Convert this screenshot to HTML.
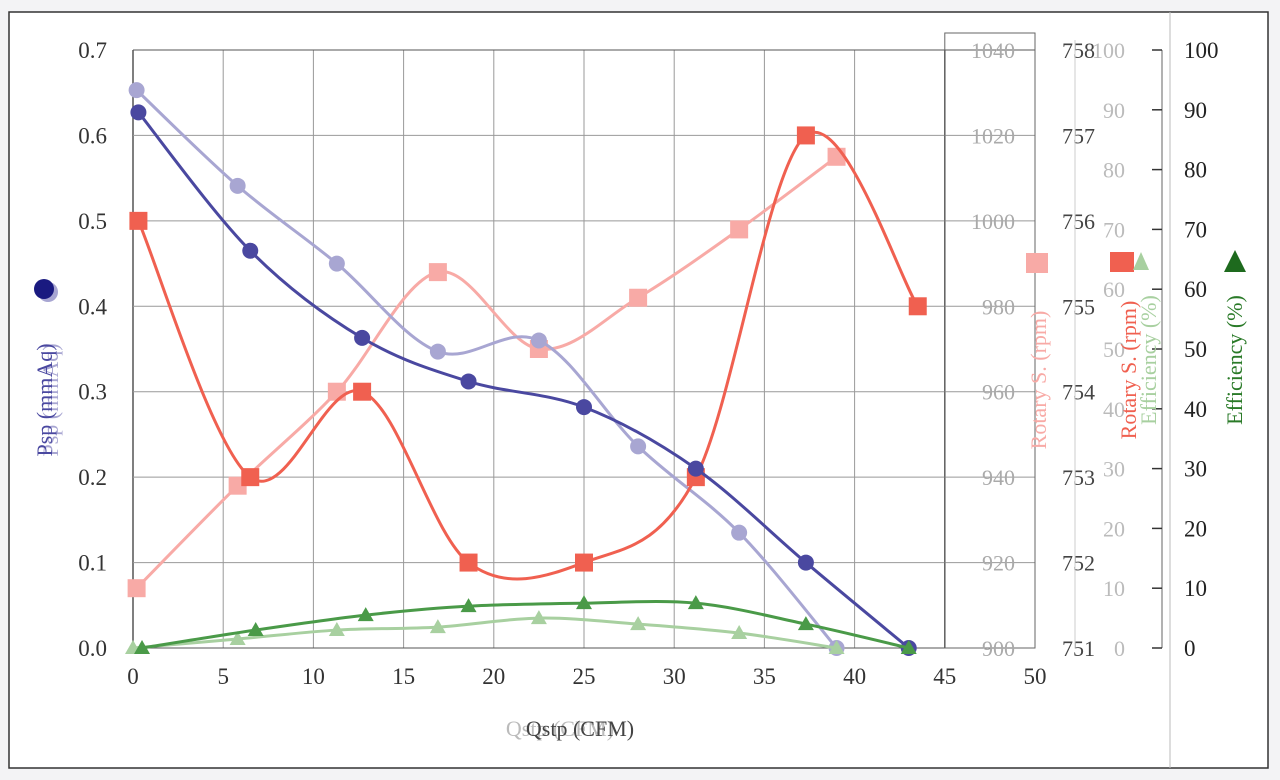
<!DOCTYPE html>
<html><head><meta charset="utf-8"><style>
html,body{margin:0;padding:0;background:#f3f3f5;}
svg{display:block;font-family:"Liberation Serif",serif;}
</style></head><body>
<svg id="c" width="1280" height="780" viewBox="0 0 1280 780">
<rect x="9" y="12" width="1259" height="756" fill="#fff" stroke="#333" stroke-width="1.5"/>
<line x1="1170" y1="12" x2="1170" y2="768" stroke="#bbb"/>
<g id="grid"></g><g id="axes"></g><g id="series"></g>
<g id="labels" font-size="22"></g>
</svg>
<script>
const xTicks=[0,5,10,15,20,25,30,35,40,45,50];
const yTicks=["0.0","0.1","0.2","0.3","0.4","0.5","0.6","0.7"];
const rpmTicks=[900,920,940,960,980,1000,1020,1040];
const rpm2Ticks=[751,752,753,754,755,756,757,758];
const effTicks=[0,10,20,30,40,50,60,70,80,90,100];
const pspX=[0.3,6.5,12.7,18.6,25,31.2,37.3,43];
const pspY=[0.627,0.465,0.363,0.312,0.282,0.21,0.1,0];
const psp2X=[0.2,5.8,11.3,16.9,22.5,28,33.6,39];
const psp2Y=[0.653,0.541,0.45,0.347,0.36,0.236,0.135,0];
const rpmX=[0.3,6.5,12.7,18.6,25,31.2,37.3,43.5];
const rpmY=[756,753,754,752,752,753,757,755];
const rpm2X=[0.2,5.8,11.3,16.9,22.5,28,33.6,39];
const rpm2Y=[914,938,960,988,970,982,998,1015];
const effX=[0.5,6.8,12.9,18.6,25,31.2,37.3,43];
const effY=[0,3,5.5,7,7.5,7.5,4,0];
const eff2X=[0,5.8,11.3,16.9,22.5,28,33.6,39];
const eff2Y=[0,1.5,3,3.5,5,4,2.5,0];

const X0=133,XS=18.04,YB=648,YT=50;
const sx=v=>X0+v*XS;
const sy=v=>YB-v/0.7*(YB-YT);
const syR=v=>YB-(v-900)/140*(YB-YT);
const syR2=v=>YB-(v-751)/7*(YB-YT);
const syE=v=>YB-v/100*(YB-YT);
const NS="http://www.w3.org/2000/svg";
function mk(parent,tag,attrs,text){const e=document.createElementNS(NS,tag);for(const k in attrs)e.setAttribute(k,attrs[k]);if(text!==undefined)e.textContent=text;document.getElementById(parent).appendChild(e);return e;}

for(const t of xTicks){if(t>45)continue;
 const g=mk('grid','line',{x1:sx(t),x2:sx(t),y1:YT,y2:YB,stroke:t===0||t===45?'#555':'#999','stroke-width':t===0||t===45?1.5:1});
 
 }
for(const t of yTicks){const y=sy(+t);
 const g=mk('grid','line',{x1:X0,x2:sx(50),y1:y,y2:y,stroke:(+t===0.7||+t===0)?'#555':'#999','stroke-width':1});
 
 }
const bx=mk('grid','rect',{x:sx(45),y:33,width:sx(50)-sx(45),height:YB-33,fill:'none',stroke:'#666'});



for(const t of xTicks){const e=mk('axes','text',{x:sx(t),y:684,'text-anchor':'middle','font-size':23,fill:'#333'},t);
 
 }
for(const t of yTicks){const e=mk('axes','text',{x:107,y:sy(+t)+8,'text-anchor':'end','font-size':23,fill:'#333'},t);
 
 }
for(const t of rpmTicks){const e=mk('axes','text',{x:1015,y:syR(t)+8,'text-anchor':'end','font-size':22,fill:'#aaa'},t);
 
 }
for(const t of rpm2Ticks){const e=mk('axes','text',{x:1062,y:syR2(t)+8,'font-size':22,fill:'#444'},t);
 
 }
mk('axes','line',{x1:1075,x2:1075,y1:40,y2:YB,stroke:'#ccc'});
for(const t of effTicks){const e=mk('axes','text',{x:1125,y:syE(t)+8,'text-anchor':'end','font-size':22,fill:'#bbb'},t);
 
 }
mk('axes','line',{x1:1162,x2:1162,y1:YT,y2:YB,stroke:'#999','stroke-width':1.5});
for(const t of effTicks){const y=syE(t);
 mk('axes','line',{x1:1152,x2:1162,y1:y,y2:y,stroke:'#333','stroke-width':1.5});
 const e=mk('axes','text',{x:1184,y:y+8,'font-size':23,fill:'#222'},t);
 
 }

function smooth(pts){let d=`M${pts[0][0]},${pts[0][1]}`;
 for(let i=0;i<pts.length-1;i++){const p0=pts[i-1]||pts[i],p1=pts[i],p2=pts[i+1],p3=pts[i+2]||p2;
  const c1=[p1[0]+(p2[0]-p0[0])/6,p1[1]+(p2[1]-p0[1])/6],c2=[p2[0]-(p3[0]-p1[0])/6,p2[1]-(p3[1]-p1[1])/6];
  d+=` C${c1[0]},${c1[1]} ${c2[0]},${c2[1]} ${p2[0]},${p2[1]}`;}return d;}
function series(xs,ys,fy,color,marker,name){
 const pts=xs.map((x,i)=>[sx(x),fy(ys[i])]);
 const p=mk('series','path',{d:smooth(pts),fill:'none',stroke:color,'stroke-width':3});
 
 
 pts.forEach(([x,y])=>{let m;
  if(marker==='c')m=mk('series','circle',{cx:x,cy:y,r:8,fill:color});
  else if(marker==='s')m=mk('series','rect',{x:x-9,y:y-9,width:18,height:18,fill:color});
  else m=mk('series','polygon',{points:`${x},${y-8} ${x-8},${y+6} ${x+8},${y+6}`,fill:color});
  
  });}
series(rpm2X,rpm2Y,syR,'#f8aaa6','s','rotary-speed-ref');
series(psp2X,psp2Y,sy,'#a8a6d2','c','psp-ref');
series(eff2X,eff2Y,syE,'#a8d0a0','t','efficiency-ref');
series(rpmX,rpmY,syR2,'#f06050','s','rotary-speed');
series(pspX,pspY,sy,'#4a48a0','c','psp');
series(effX,effY,syE,'#4a9a48','t','efficiency');

function lab(x,y,t,col,size,rot,name){const e=mk('labels','text',{x,y,fill:col,'font-size':size,'text-anchor':'middle',transform:rot?`rotate(-90 ${x} ${y})`:''},t);
 
 }
lab(560,736,'Qstp (CFM)','#bbb',22,false,'x-axis-title-ref');
lab(580,736,'Qstp (CFM)','#444',22,false,'x-axis-title');
lab(58,400,'Psp (mmAq)','#a8a6d2',22,true,'y-axis-title-ref');
lab(52,400,'Psp (mmAq)','#4a48a0',22,true,'y-axis-title');
mk('labels','circle',{cx:48,cy:292,r:10,fill:'#a8a6d2'});
mk('labels','circle',{cx:44,cy:289,r:10,fill:'#1a1a80'});
lab(1046,380,'Rotary S. (rpm)','#f8aaa6',22,true,'rpm-axis-title-ref');
mk('labels','rect',{x:1026,y:253,width:22,height:20,fill:'#f8aaa6'});
lab(1136,370,'Rotary S. (rpm)','#f06050',22,true,'rpm-axis-title');
mk('labels','rect',{x:1110,y:252,width:24,height:20,fill:'#f06050'});
lab(1156,360,'Efficiency (%)','#a8d0a0',22,true,'eff-axis-title-ref');
mk('labels','polygon',{points:'1141,252 1133,270 1149,270',fill:'#a8d0a0'});
lab(1242,360,'Efficiency (%)','#2a7a28',22,true,'eff-axis-title');
mk('labels','polygon',{points:'1235,250 1224,272 1246,272',fill:'#1e6a1e'});
</script>
</body></html>
